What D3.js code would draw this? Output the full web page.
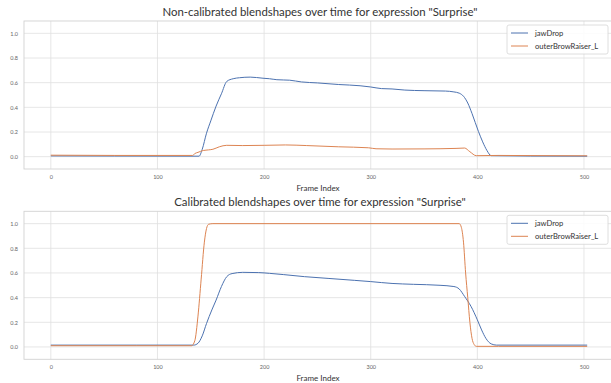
<!DOCTYPE html>
<html><head><meta charset="utf-8">
<script src="https://cdn.jsdelivr.net/npm/d3@7"></script>
<style>body{margin:0;background:#fff}svg{display:block}text{font-family:Lato,"Open Sans",sans-serif}</style>
</head><body><svg id="c" width="611" height="383"></svg>
<script>
const seriesNames = ["jawDrop", "outerBrowRaiser_L"];
const xTicks = [0, 100, 200, 300, 400, 500];
const yTicks = [0.0, 0.2, 0.4, 0.6, 0.8, 1.0];
const titles = ['Non-calibrated blendshapes over time for expression "Surprise"',
                'Calibrated blendshapes over time for expression "Surprise"'];
// [frame, value]
const rawJaw = [[0,0.006],[60,0.005],[139,0.004],[142,0.06],[146,0.19],[150,0.29],[155,0.41],[160,0.51],[165,0.61],[171,0.632],[177,0.64],[187,0.645],[199,0.636],[205,0.632],[212,0.624],[224,0.62],[235,0.606],[250,0.598],[270,0.585],[290,0.575],[300,0.565],[310,0.552],[320,0.549],[332,0.54],[350,0.535],[370,0.532],[378,0.525],[383,0.515],[387,0.49],[391,0.435],[395,0.35],[401,0.205],[405,0.12],[409,0.05],[413,0.008],[450,0.005],[503,0.004]];
const rawBrow = [[0,0.012],[60,0.01],[133,0.01],[135,0.025],[138,0.035],[143,0.05],[148,0.055],[152,0.06],[158,0.08],[165,0.092],[180,0.09],[200,0.092],[220,0.095],[240,0.09],[270,0.08],[298,0.072],[305,0.064],[320,0.062],[350,0.063],[380,0.067],[388,0.07],[393,0.04],[399,0.008],[420,0.01],[470,0.008],[503,0.007]];
const calJaw = [[0,0.015],[80,0.015],[134,0.015],[138,0.03],[142,0.09],[146,0.19],[151,0.3],[155,0.38],[160,0.49],[165,0.57],[170,0.595],[180,0.605],[195,0.603],[205,0.597],[218,0.587],[238,0.57],[260,0.556],[285,0.54],[300,0.53],[320,0.515],[340,0.508],[365,0.5],[378,0.49],[383,0.47],[388,0.41],[394,0.33],[400,0.22],[404,0.138],[408,0.07],[413,0.025],[418,0.015],[503,0.015]];
const calBrow = [[0,0.01],[80,0.01],[132,0.01],[135,0.05],[138,0.25],[141,0.55],[144,0.85],[146,0.96],[148,0.995],[152,1.0],[383,1.0],[385,0.97],[387,0.85],[389,0.6],[391,0.4],[393,0.2],[395,0.07],[397,0.02],[399,0.005],[420,0.005],[503,0.005]];
const panels = [[rawJaw, rawBrow], [calJaw, calBrow]];
const colors = ["#4c72b0", "#dd8452"];

const svg = d3.select("#c");
const L = 24, R = 614;
const tops = [21, 211.3];
const H = 148;
const x = d3.scaleLinear().domain([-25.15, 528.15]).range([L, R]);

panels.forEach((pd, i) => {
  const t = tops[i];
  const y = d3.scaleLinear().domain([-0.1, 1.1]).range([t + H, t]);
  const g = svg.append("g");
  g.selectAll(".gx").data(xTicks).enter().append("line")
    .attr("x1", d => x(d)).attr("x2", d => x(d)).attr("y1", t).attr("y2", t + H)
    .attr("stroke", "#e0e0e0").attr("stroke-width", 0.8);
  g.selectAll(".gy").data(yTicks).enter().append("line")
    .attr("x1", L).attr("x2", R).attr("y1", d => y(d)).attr("y2", d => y(d))
    .attr("stroke", "#e0e0e0").attr("stroke-width", 0.8);
  g.append("rect").attr("x", L).attr("y", t).attr("width", R - L).attr("height", H)
    .attr("fill", "none").attr("stroke", "#d2d2d2").attr("stroke-width", 0.9);
  const xa = d3.axisBottom(x).tickValues(xTicks).tickSize(0).tickPadding(6).tickFormat(d3.format("d"));
  const xg = g.append("g").attr("transform", `translate(0,${t + H})`).call(xa);
  xg.select(".domain").remove();
  xg.selectAll("text").attr("font-size", 5.5).attr("fill", "#666").style("font-family", "Lato,sans-serif");
  const ya = d3.axisLeft(y).tickValues(yTicks).tickSize(0).tickPadding(6).tickFormat(d3.format(".1f"));
  const yg = g.append("g").attr("transform", `translate(${L},0)`).call(ya);
  yg.select(".domain").remove();
  yg.selectAll("text").attr("font-size", 5.5).attr("fill", "#666").style("font-family", "Lato,sans-serif");
  const line = d3.line().x(d => x(d[0])).y(d => y(d[1])).curve(d3.curveMonotoneX);
  pd.forEach((s, k) => {
    g.append("path").attr("d", line(s)).attr("fill", "none")
      .attr("stroke", colors[k]).attr("stroke-width", 1.0);
  });
  g.append("text").attr("x", (L + R) / 2 + 1).attr("y", t - 5).attr("text-anchor", "middle")
    .attr("font-size", 11.4).attr("fill", "#333").text(titles[i]);
  g.append("text").attr("x", (L + R) / 2 - 1).attr("y", t + H + 22).attr("text-anchor", "middle")
    .attr("font-size", 8).attr("fill", "#333").text("Frame Index");
  const lg = g.append("g");
  lg.append("rect").attr("x", 507).attr("y", t + 4).attr("width", 101).attr("height", 29).attr("rx", 2)
    .attr("fill", "#fff").attr("fill-opacity", 0.85).attr("stroke", "#d6d6d6").attr("stroke-width", 0.8);
  seriesNames.forEach((n, k) => {
    const yy = t + 12 + k * 13;
    lg.append("line").attr("x1", 511).attr("x2", 528).attr("y1", yy).attr("y2", yy)
      .attr("stroke", colors[k]).attr("stroke-width", 1.0);
    lg.append("text").attr("x", 535).attr("y", yy + 2.7).attr("font-size", 7.6).attr("fill", "#333").text(n);
  });
});
</script></body></html>
